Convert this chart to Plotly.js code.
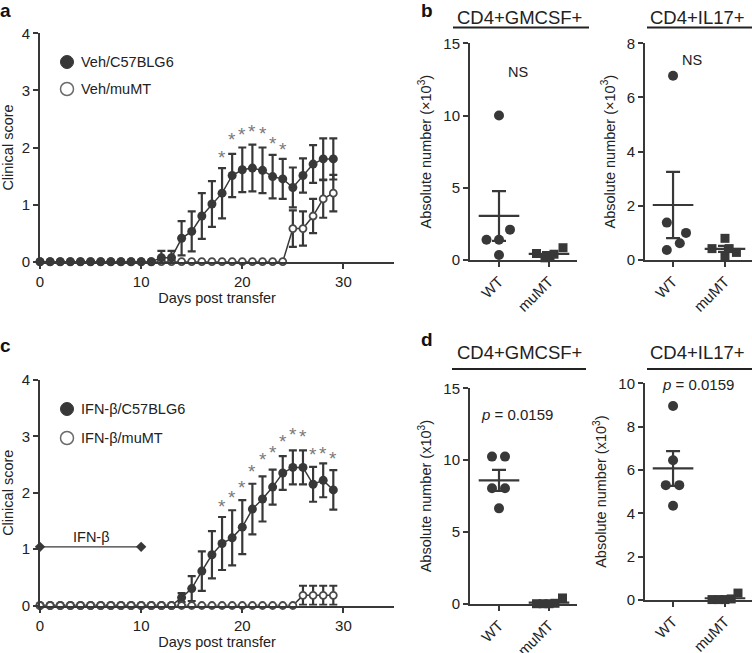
<!DOCTYPE html>
<html>
<head>
<meta charset="utf-8">
<script src="https://cdn.plot.ly/plotly-3.0.1.min.js"></script>
<style>html,body{margin:0;padding:0;background:#fff;}#chart{width:752px;height:653px;}</style>
</head>
<body>
<div id="chart"></div>
<script>
// ---------- DATA ----------
const days = [0,1,2,3,4,5,6,7,8,9,10,11,12,13,14,15,16,17,18,19,20,21,22,23,24,25,26,27,28,29];

// Panel a
const vehB6 =    [0,0,0,0,0,0,0,0,0,0,0,0,0.07,0.07,0.41,0.53,0.80,1.01,1.20,1.51,1.61,1.64,1.60,1.49,1.45,1.30,1.51,1.71,1.80,1.80];
const vehB6Err = [0,0,0,0,0,0,0,0,0,0,0,0,0.12,0.12,0.30,0.35,0.40,0.40,0.44,0.38,0.39,0.41,0.40,0.38,0.35,0.35,0.30,0.33,0.36,0.36];
const vehMu =    [0,0,0,0,0,0,0,0,0,0,0,0,0,0,0,0,0,0,0,0,0,0,0,0,0,0.58,0.58,0.80,1.10,1.20];
const vehMuErr = [0,0,0,0,0,0,0,0,0,0,0,0,0,0,0,0,0,0,0,0,0,0,0,0,0,0.32,0.30,0.30,0.33,0.32];
const starDaysA = [18,19,20,21,22,23,24];
const starYA =    [1.91,2.22,2.31,2.37,2.34,2.16,2.05];

// Panel c
const ifnB6 =    [0,0,0,0,0,0,0,0,0,0,0,0,0,0,0.14,0.30,0.61,0.90,1.10,1.20,1.39,1.71,1.89,2.10,2.35,2.45,2.45,2.15,2.22,2.05];
const ifnB6Err = [0,0,0,0,0,0,0,0,0,0,0,0,0,0,0.08,0.22,0.35,0.42,0.47,0.49,0.48,0.45,0.40,0.31,0.30,0.30,0.30,0.31,0.30,0.35];
const ifnMu =    [0,0,0,0,0,0,0,0,0,0,0,0,0,0,0,0,0,0,0,0,0,0,0,0,0,0,0.18,0.18,0.18,0.18];
const ifnMuErr = [0,0,0,0,0,0,0,0,0,0,0,0,0,0,0,0,0,0,0,0,0,0,0,0,0,0,0.17,0.17,0.17,0.17];
const starDaysC = [18,19,20,21,22,23,24,25,26,27,28,29];
const starYC =    [1.85,2.01,2.19,2.46,2.67,2.80,3.00,3.12,3.09,2.76,2.79,2.70];
const ifnDays = [0,10];
const ifnLevel = [1.04,1.04];

// Panels b and d
const groups = ['WT','muMT'];
const gmWT_b = [10.0, 2.1, 1.4, 1.4, 0.35];
const gmMu_b = [0.45, 0.15, 0.25, 0.40, 0.85];
const gmMean_b = [3.05, 0.42];
const gmSem_b  = [1.72, 0.12];
const ilWT_b = [6.8, 1.38, 1.0, 0.62, 0.37];
const ilMu_b = [0.80, 0.42, 0.42, 0.28, 0.15];
const ilMean_b = [2.03, 0.41];
const ilSem_b  = [1.22, 0.11];
const gmWT_d = [10.25, 10.25, 8.05, 8.05, 6.65];
const gmMu_d = [0.02, 0.02, 0.02, 0.05, 0.42];
const gmMean_d = [8.60, 0.10];
const gmSem_d  = [0.73, 0.08];
const ilWT_d = [8.95, 6.45, 5.30, 5.30, 4.35];
const ilMu_d = [0.02, 0.02, 0.02, 0.05, 0.32];
const ilMean_d = [6.07, 0.08];
const ilSem_d  = [0.80, 0.06];

// ---------- LAYOUT HELPERS (positions / styles) ----------
const W = 752, H = 653;
const fx = p => p / W;
const fy = p => (H - p) / H;
const DARK = '#383838', TXT = '#222222', STAR = '#7a7a7a';
const FONT = 'Arial, "Liberation Sans", Helvetica, sans-serif';

// horizontal spread of dots within a group (layout only)
const spread = {
  gmWT_b: [0, 0.22, -0.25, 0, 0],
  gmMu_b: [-0.25, -0.08, 0.02, 0.10, 0.28],
  ilWT_b: [0, -0.12, 0.25, 0.13, -0.12],
  ilMu_b: [0, -0.25, 0.08, 0.22, 0],
  gmWT_d: [-0.14, 0.12, -0.14, 0.12, 0],
  gmMu_d: [-0.25, -0.12, 0, 0.12, 0.27],
  ilWT_d: [0, 0, -0.14, 0.12, 0],
  ilMu_d: [-0.25, -0.12, 0, 0.12, 0.25]
};
const place = (base, vals, off) => vals.map((v, i) => base + off[i]);

const traces = [];

function timeCourse(xa, ya, filled, filledErr, open, openErr, openOnTop) {
  const f = {
    type: 'scatter', mode: 'lines+markers', x: days, y: filled, xaxis: xa, yaxis: ya,
    line: {color: DARK, width: 1.5},
    marker: {symbol: 'circle', size: 9, color: DARK},
    error_y: {type: 'data', array: filledErr, visible: true, color: DARK, thickness: 2.2, width: 4},
    cliponaxis: false, hoverinfo: 'skip'
  };
  const o = {
    type: 'scatter', mode: 'lines+markers', x: days, y: open, xaxis: xa, yaxis: ya,
    line: {color: DARK, width: 1.5},
    marker: {symbol: 'circle', size: 7, color: '#ffffff', line: {color: '#4a4a4a', width: 1.8}},
    error_y: {type: 'data', array: openErr, visible: true, color: DARK, thickness: 2.2, width: 4},
    cliponaxis: false, hoverinfo: 'skip'
  };
  if (openOnTop) { traces.push(f, o); } else { traces.push(o, f); }
}
timeCourse('x', 'y', vehB6, vehB6Err, vehMu, vehMuErr, false);
timeCourse('x4', 'y4', ifnB6, ifnB6Err, ifnMu, ifnMuErr, true);

// IFN-beta treatment bar
traces.push({
  type: 'scatter', mode: 'lines+markers', x: ifnDays, y: ifnLevel, xaxis: 'x4', yaxis: 'y4',
  line: {color: DARK, width: 1.3}, marker: {symbol: 'diamond', size: 8, color: DARK},
  cliponaxis: false, hoverinfo: 'skip'
});

function dotPanel(xa, ya, wt, wtOff, mu, muOff, mean, sem) {
  traces.push({
    type: 'scatter', mode: 'markers', x: place(1, wt, wtOff), y: wt, xaxis: xa, yaxis: ya,
    marker: {symbol: 'circle', size: 10, color: DARK}, cliponaxis: false, hoverinfo: 'skip'
  });
  traces.push({
    type: 'scatter', mode: 'markers', x: place(2, mu, muOff), y: mu, xaxis: xa, yaxis: ya,
    marker: {symbol: 'square', size: 9, color: DARK}, cliponaxis: false, hoverinfo: 'skip'
  });
  traces.push({
    type: 'scatter', mode: 'markers', x: [1, 2], y: mean, xaxis: xa, yaxis: ya,
    marker: {symbol: 'line-ew-open', size: 29, color: DARK, line: {color: DARK, width: 2.2}},
    error_y: {type: 'data', array: sem, visible: true, color: DARK, thickness: 2.2, width: 7},
    cliponaxis: false, hoverinfo: 'skip'
  });
}
dotPanel('x2', 'y2', gmWT_b, spread.gmWT_b, gmMu_b, spread.gmMu_b, gmMean_b, gmSem_b);
dotPanel('x3', 'y3', ilWT_b, spread.ilWT_b, ilMu_b, spread.ilMu_b, ilMean_b, ilSem_b);
dotPanel('x5', 'y5', gmWT_d, spread.gmWT_d, gmMu_d, spread.gmMu_d, gmMean_d, gmSem_d);
dotPanel('x6', 'y6', ilWT_d, spread.ilWT_d, ilMu_d, spread.ilMu_d, ilMean_d, ilSem_d);

// ---------- AXES ----------
const axBase = {
  showline: true, linecolor: DARK, linewidth: 2, ticks: 'outside', ticklen: 5, tickwidth: 2,
  tickcolor: DARK, showgrid: false, zeroline: false, fixedrange: true,
  tickfont: {family: FONT, size: 15, color: TXT}
};
const ax = (o) => Object.assign({}, axBase, o);
const ttl = (text, standoff) => ({text: text, font: {family: FONT, size: 14.5, color: TXT}, standoff: standoff});

const layout = {
  width: W, height: H, margin: {l: 0, r: 0, t: 0, b: 0},
  paper_bgcolor: '#ffffff', plot_bgcolor: 'rgba(0,0,0,0)', showlegend: false,
  font: {family: FONT, size: 14.5, color: TXT},
  // a
  xaxis: ax({domain: [fx(40), fx(394)], range: [0, 35], anchor: 'y', tickvals: [0, 10, 20, 30], title: ttl('Days post transfer', 4)}),
  yaxis: ax({domain: [fy(261.7), fy(33.3)], range: [0, 4], anchor: 'x', tickvals: [0, 1, 2, 3, 4], title: ttl('Clinical score', 8)}),
  // b left
  xaxis2: ax({domain: [fx(470), fx(577)], range: [0.42, 2.56], anchor: 'y2', tickvals: [1, 2], ticktext: groups, tickangle: -45}),
  yaxis2: ax({domain: [fy(260), fy(43.3)], range: [0, 15], anchor: 'x2', tickvals: [0, 5, 10, 15], title: ttl('Absolute number (×10<sup>3</sup>)', 8)}),
  // b right
  xaxis3: ax({domain: [fx(645), fx(752)], range: [0.46, 2.52], anchor: 'y3', tickvals: [1, 2], ticktext: groups, tickangle: -45}),
  yaxis3: ax({domain: [fy(260), fy(43.3)], range: [0, 8], anchor: 'x3', tickvals: [0, 2, 4, 6, 8], title: ttl('Absolute number (×10<sup>3</sup>)', 8)}),
  // c
  xaxis4: ax({domain: [fx(40), fx(394)], range: [0, 35], anchor: 'y4', tickvals: [0, 10, 20, 30], title: ttl('Days post transfer', 4)}),
  yaxis4: ax({domain: [fy(605.5), fy(380)], range: [0, 4], anchor: 'x4', tickvals: [0, 1, 2, 3, 4], title: ttl('Clinical score', 8)}),
  // d left
  xaxis5: ax({domain: [fx(470), fx(577)], range: [0.42, 2.56], anchor: 'y5', tickvals: [1, 2], ticktext: groups, tickangle: -45}),
  yaxis5: ax({domain: [fy(604), fy(388.3)], range: [0, 15], anchor: 'x5', tickvals: [0, 5, 10, 15], title: ttl('Absolute number (x10<sup>3</sup>)', 8)}),
  // d right
  xaxis6: ax({domain: [fx(645), fx(752)], range: [0.46, 2.52], anchor: 'y6', tickvals: [1, 2], ticktext: groups, tickangle: -45}),
  yaxis6: ax({domain: [fy(600), fy(383.3)], range: [0, 10], anchor: 'x6', tickvals: [0, 2, 4, 6, 8, 10], title: ttl('Absolute number (x10<sup>3</sup>)', 8)}),
  shapes: [],
  annotations: []
};

// significance stars (asterisk glyph sits high in its box, so nudge down)
function stars(xr, yr, xs, ys) {
  xs.forEach((d, i) => {
    layout.annotations.push({text: '*', xref: xr, yref: yr, x: d, y: ys[i], showarrow: false,
      xanchor: 'center', yanchor: 'middle', yshift: -5, font: {family: FONT, size: 19, color: STAR}});
  });
}
stars('x', 'y', starDaysA, starYA);
stars('x4', 'y4', starDaysC, starYC);

// panel letters
[['a', 5, 11], ['b', 427, 11], ['c', 5, 345], ['d', 427, 340]].forEach(([t, x, y]) => {
  layout.annotations.push({text: '<b>' + t + '</b>', xref: 'paper', yref: 'paper', x: fx(x), y: fy(y),
    xanchor: 'center', yanchor: 'middle', showarrow: false, font: {family: FONT, size: 19, color: '#111'}});
});

// underlined panel headers
[['CD4+GMCSF+', 519, 17.5, 453, 589, 27.5], ['CD4+IL17+', 697, 17.5, 647, 752, 27.5],
 ['CD4+GMCSF+', 519, 352, 452, 586, 369], ['CD4+IL17+', 697, 352, 647, 752, 369]].forEach(([t, cx, cy, l, r, uy]) => {
  layout.annotations.push({text: t, xref: 'paper', yref: 'paper', x: fx(cx), y: fy(cy),
    xanchor: 'center', yanchor: 'middle', showarrow: false, font: {family: FONT, size: 18.5, color: TXT}});
  layout.shapes.push({type: 'line', xref: 'paper', yref: 'paper', x0: fx(l), x1: fx(r), y0: fy(uy), y1: fy(uy),
    line: {color: '#222', width: 2}});
});

// legends (drawn as key glyphs + text)
function legendItem(cx, cy, filled, label) {
  layout.shapes.push({type: 'circle', xref: 'paper', yref: 'paper', xsizemode: 'pixel', ysizemode: 'pixel',
    xanchor: fx(cx), yanchor: fy(cy), x0: -6.5, x1: 6.5, y0: -6.5, y1: 6.5,
    fillcolor: filled ? DARK : '#ffffff', line: {color: filled ? DARK : '#6a6a6a', width: filled ? 1 : 1.5}});
  layout.annotations.push({text: label, xref: 'paper', yref: 'paper', x: fx(cx + 12), y: fy(cy),
    xanchor: 'left', yanchor: 'middle', showarrow: false, font: {family: FONT, size: 14.5, color: TXT}});
}
legendItem(67, 62, true, 'Veh/C57BLG6');
legendItem(67, 89, false, 'Veh/muMT');
legendItem(67, 409, true, 'IFN-β/C57BLG6');
legendItem(67, 438, false, 'IFN-β/muMT');

// in-plot labels
layout.annotations.push({text: 'IFN-β', xref: 'x4', yref: 'y4', x: 5.1, y: 1.22, showarrow: false,
  xanchor: 'center', yanchor: 'middle', font: {family: FONT, size: 14.5, color: TXT}});
layout.annotations.push({text: 'NS', xref: 'x2', yref: 'y2', x: 1.38, y: 13.0, showarrow: false,
  xanchor: 'center', yanchor: 'middle', font: {family: FONT, size: 14.5, color: TXT}});
layout.annotations.push({text: 'NS', xref: 'x3', yref: 'y3', x: 1.37, y: 7.4, showarrow: false,
  xanchor: 'center', yanchor: 'middle', font: {family: FONT, size: 14.5, color: TXT}});
layout.annotations.push({text: '<i>p</i> = 0.0159', xref: 'x5', yref: 'y5', x: 1.36, y: 13.2, showarrow: false,
  xanchor: 'center', yanchor: 'middle', font: {family: FONT, size: 15, color: TXT}});
layout.annotations.push({text: '<i>p</i> = 0.0159', xref: 'x6', yref: 'y6', x: 1.48, y: 9.95, showarrow: false,
  xanchor: 'center', yanchor: 'middle', font: {family: FONT, size: 15, color: TXT}});

Plotly.newPlot('chart', traces, layout, {staticPlot: true, displayModeBar: false});
</script>
</body>
</html>
